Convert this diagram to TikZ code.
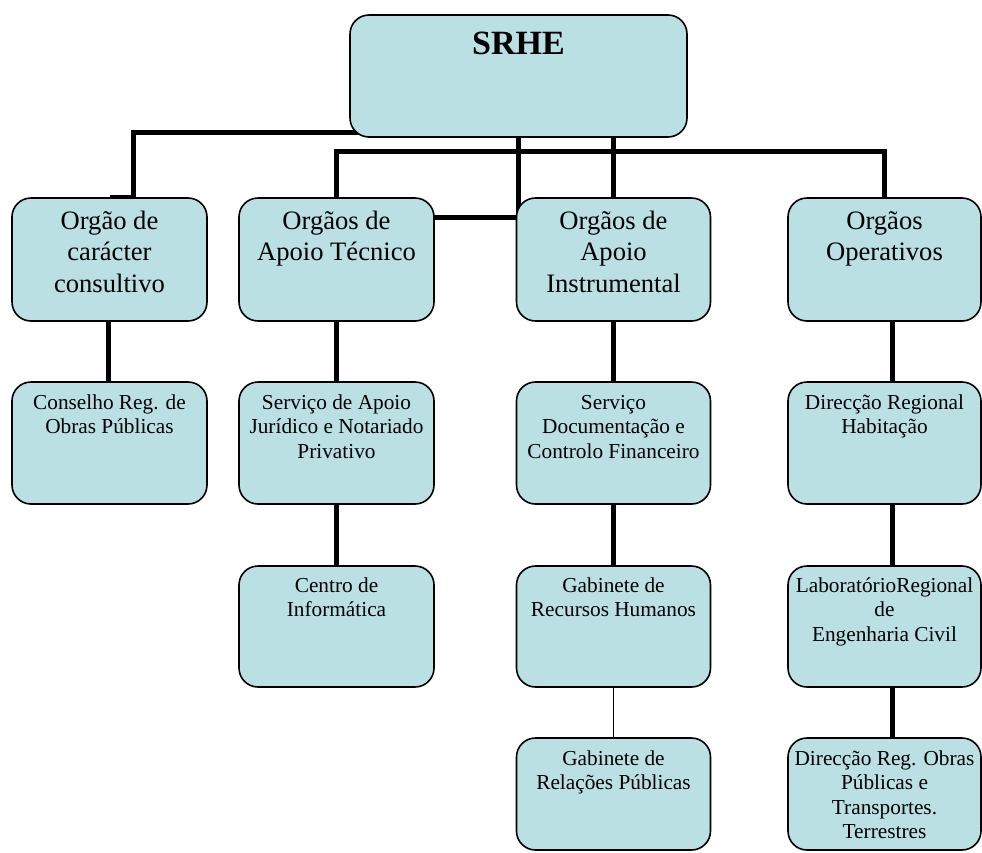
\documentclass[tikz,border=0pt]{standalone}
\usepackage{fontspec}
\setmainfont{Liberation Serif}
\usetikzlibrary{backgrounds}
\definecolor{boxfill}{RGB}{186,224,228}
\newcommand\bxtxt[5]{\parbox[c][#2][t]{#1}{#3\centering\rule{0pt}{#4}#5}}
\newcommand\lvltop{\fontsize{34}{40}\selectfont\bfseries}
\newcommand\lvlone{\fontsize{26.6}{31.5}\selectfont}
\newcommand\lvltwo{\fontsize{21.3}{24.5}\selectfont}
\begin{document}
\begin{tikzpicture}[x=1pt,y=-1pt,
  box/.style={draw=black, line width=1.6pt, fill=boxfill, rounded corners=19pt, inner sep=0pt, outer sep=0pt},
  conn/.style={draw=black, line width=5pt, line join=miter},
  thinconn/.style={draw=black, line width=1.3pt}]
\useasboundingbox (0,0) rectangle (982,852);
% top
\node[box] (srhe) at (518.5,76) {\bxtxt{337pt}{122pt}{\lvltop}{39pt}{SRHE}};
% level 1
\node[box] (a1) at (109.5,259.5) {\bxtxt{195pt}{123pt}{\lvlone}{31pt}{Orgão de\\carácter\\consultivo}};
\node[box] (b1) at (336.5,259.5) {\bxtxt{195pt}{123pt}{\lvlone}{31pt}{Orgãos de\\Apoio Técnico}};
\node[box] (c1) at (613.5,259.5) {\bxtxt{194pt}{123pt}{\lvlone}{31pt}{Orgãos de\\Apoio\\Instrumental}};
\node[box] (d1) at (884.5,259.5) {\bxtxt{193pt}{123pt}{\lvlone}{31pt}{Orgãos\\Operativos}};
% level 2
\node[box] (a2) at (109.5,443) {\bxtxt{195pt}{122pt}{\lvltwo}{27pt}{Conselho Reg. de\\Obras Públicas}};
\node[box] (b2) at (336.5,443) {\bxtxt{195pt}{122pt}{\lvltwo}{27pt}{Serviço de Apoio\\Jurídico e Notariado\\Privativo}};
\node[box] (c2) at (613.5,443) {\bxtxt{194pt}{122pt}{\lvltwo}{27pt}{Serviço\\Documentação e\\Controlo Financeiro}};
\node[box] (d2) at (884.5,443) {\bxtxt{193pt}{122pt}{\lvltwo}{27pt}{Direcção Regional\\Habitação}};
% level 3
\node[box] (b3) at (336.5,626.5) {\bxtxt{195pt}{121pt}{\lvltwo}{26pt}{Centro de\\Informática}};
\node[box] (c3) at (613.5,626.5) {\bxtxt{194pt}{121pt}{\lvltwo}{26pt}{Gabinete de\\Recursos Humanos}};
\node[box] (d3) at (884.5,626.5) {\bxtxt{193pt}{121pt}{\lvltwo}{26pt}{LaboratórioRegional\\de\\Engenharia Civil}};
% level 4
\node[box] (c4) at (613.5,794) {\bxtxt{194pt}{112pt}{\lvltwo}{27pt}{Gabinete de\\Relações Públicas}};
\node[box] (d4) at (884.5,794) {\bxtxt{193pt}{112pt}{\lvltwo}{27pt}{Direcção Reg. Obras\\Públicas e\\Transportes.\\Terrestres}};
% connectors
\begin{scope}[on background layer]
\coordinate (jA) at (133,132);
\coordinate (busy) at (0,151);
\coordinate (jB) at (518.5,217);
\draw[conn] ([yshift=1pt]a1.north) -| (jA) -- (jA -| srhe.center);
\draw[conn] (b1.north) |- (d1.north |- busy) -- (d1.north);
\draw[conn] (srhe.center -| c1.north) -- (c1.north);
\draw[conn] (srhe.center) -- (jB) -- (jB -| b1.east);
\draw[conn] ([xshift=-1.5pt]a1.south) -- ([xshift=-1.5pt]a2.north);
\draw[conn] (b1.south) -- (b2.north);
\draw[conn] (b2.south) -- (b3.north);
\draw[conn] (c1.south) -- (c2.north);
\draw[conn] (c2.south) -- (c3.north);
\draw[thinconn] (c3.south) -- (c4.north);
\draw[conn] ([xshift=7.5pt]d1.south) -- ([xshift=7.5pt]d2.north);
\draw[conn] ([xshift=7.5pt]d2.south) -- ([xshift=7.5pt]d3.north);
\draw[conn] ([xshift=7.5pt]d3.south) -- ([xshift=7.5pt]d4.north);
\end{scope}
\end{tikzpicture}
\end{document}
